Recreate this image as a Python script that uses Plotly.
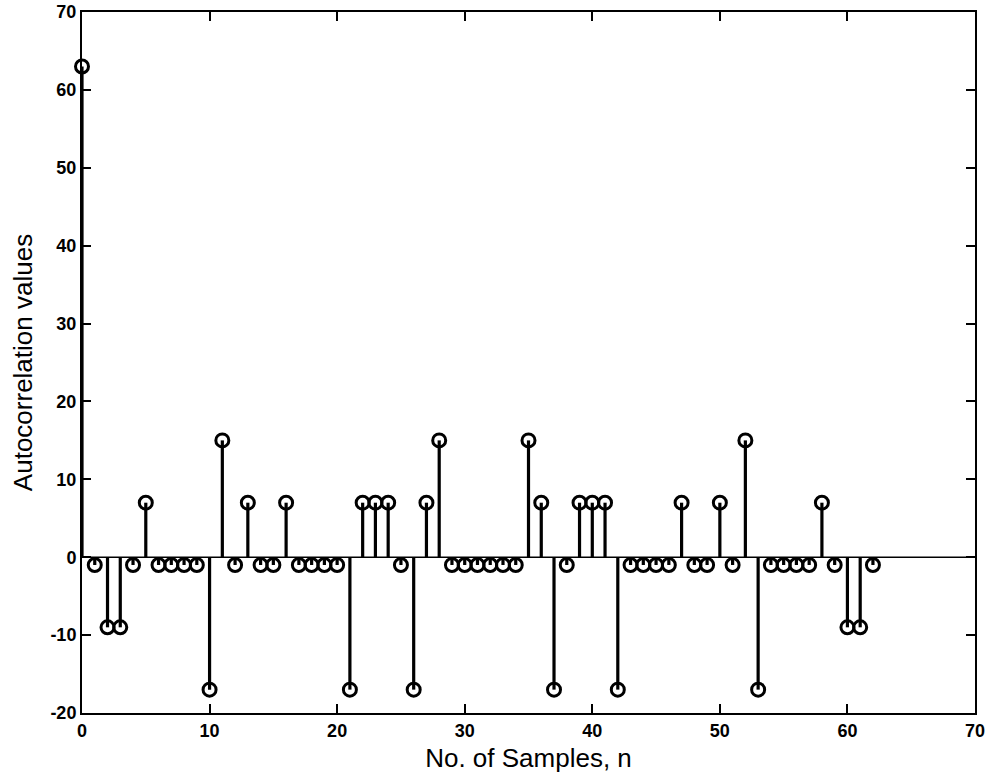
import plotly.graph_objects as go

n_samples = list(range(63))
autocorr = [63, -1, -9, -9, -1, 7, -1, -1, -1, -1,
            -17, 15, -1, 7, -1, -1, 7, -1, -1, -1,
            -1, -17, 7, 7, 7, -1, -17, 7, 15, -1,
            -1, -1, -1, -1, -1, 15, 7, -17, -1, 7,
            7, 7, -17, -1, -1, -1, -1, 7, -1, -1,
            7, -1, 15, -17, -1, -1, -1, -1, 7, -1,
            -9, -9, -1]
x_ticks = [0, 10, 20, 30, 40, 50, 60, 70]
x_tick_labels = ["0", "10", "20", "30", "40", "50", "60", "70"]
y_ticks = [-20, -10, 0, 10, 20, 30, 40, 50, 60, 70]
y_tick_labels = ["-20", "-10", "0", "10", "20", "30", "40", "50", "60", "70"]

stem_x, stem_y = [], []
for n, v in zip(n_samples, autocorr):
    stem_x += [n, n, None]
    stem_y += [0, v, None]

fig = go.Figure()
fig.add_shape(type="line", xref="paper", yref="y", x0=0, x1=1, y0=0, y1=0,
              line=dict(color="black", width=1.5), layer="below")
fig.add_trace(go.Scatter(x=stem_x, y=stem_y, mode="lines", cliponaxis=False,
                         line=dict(color="black", width=3.2), hoverinfo="skip"))
fig.add_trace(go.Scatter(x=n_samples, y=autocorr, mode="markers", cliponaxis=False,
                         marker=dict(symbol="circle-open", size=13, color="black",
                                     line=dict(width=3, color="black"))))

axis_common = dict(showgrid=False, zeroline=False, showline=True, linecolor="black",
                   linewidth=2, mirror="ticks", ticks="inside", ticklen=9,
                   tickwidth=1.5, tickcolor="black", automargin=False,
                   tickfont=dict(family="Liberation Sans", size=18, color="black",
                                 weight="bold"))
fig.update_xaxes(range=[0, 70], tickvals=x_ticks, ticktext=x_tick_labels,
                 title=dict(text="No. of Samples, n", standoff=9,
                            font=dict(family="Liberation Sans", size=26, color="black")),
                 **axis_common)
fig.update_yaxes(range=[-20, 70], tickvals=y_ticks, ticktext=y_tick_labels,
                 title=dict(text="Autocorrelation values", standoff=10,
                            font=dict(family="Liberation Sans", size=26, color="black")),
                 **axis_common)
fig.update_layout(width=995, height=782, showlegend=False,
                  plot_bgcolor="white", paper_bgcolor="white",
                  margin=dict(l=82, r=20, t=12, b=69))
fig.write_html("out.html", config={"displayModeBar": False},
               post_script="document.body.style.margin='0';document.body.style.overflow='hidden';")
